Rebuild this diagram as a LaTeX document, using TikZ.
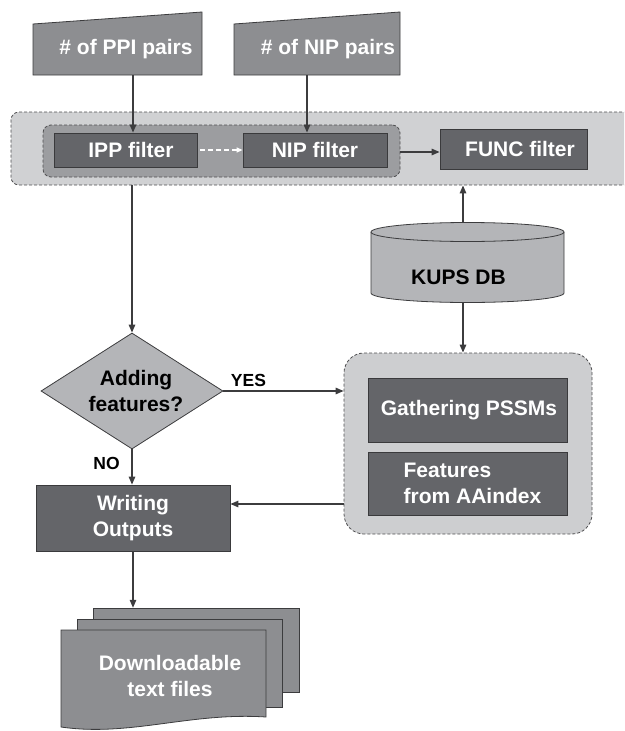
\documentclass[tikz,border=0pt]{standalone}
\usepackage{fontspec}
\setmainfont{Liberation Sans}
\usetikzlibrary{arrows.meta,shapes.geometric}
\definecolor{darkfill}{HTML}{646569}
\definecolor{darkline}{HTML}{3A3A3C}
\definecolor{infill}{HTML}{8D8E91}
\definecolor{lightfill}{HTML}{B4B5B8}
\definecolor{outerfill}{HTML}{D0D1D3}
\definecolor{innerfill}{HTML}{9C9DA0}
\definecolor{rightfill}{HTML}{CDCED0}
\definecolor{lineC}{HTML}{3C3C3E}
\definecolor{dashline}{HTML}{505052}
\begin{document}
\begin{tikzpicture}[x=1pt,y=-1pt,
  txt/.style={font=\bfseries\fontsize{21}{26.5}\selectfont},
  lbl/.style={font=\bfseries\fontsize{17.5}{20}\selectfont, inner sep=0pt},
  darkbox/.style={txt, rectangle, draw=darkline, line width=0.8pt, fill=darkfill, text=white, inner sep=0pt},
  ghost/.style={rectangle, inner sep=0pt},
  wtext/.style={txt, text=white, inner sep=0pt, align=center},
  btext/.style={txt, text=black, inner sep=0pt, align=center},
  container/.style={rectangle, rounded corners=#1, draw=dashline, dash pattern=on 3pt off 2pt, line width=0.8pt},
  shapeline/.style={draw=lineC, line width=0.8pt},
  arr/.style={draw=lineC, line width=1.3pt, -{Triangle[length=8pt,width=6.5pt]}}
]
\useasboundingbox (0,0) rectangle (624,731);
\clip (0,0) rectangle (624,731);

% coordinates for connector columns/rows
\coordinate (cA) at (133,0);
\coordinate (cB) at (307,0);
\coordinate (cC) at (463,0);
\coordinate (rA) at (0,152);
\coordinate (rB) at (0,504);

% manual inputs
\path[shapeline, fill=infill] (33,75) -- (33,24) -- (202,12) -- (202,75) -- cycle;
\node[ghost, wtext, minimum width=169pt, minimum height=51pt] (ppi) at (117.5,49.5) {\hspace*{17pt}\# of PPI pairs};
\path[shapeline, fill=infill] (234,75) -- (234,24) -- (400,12) -- (400,75) -- cycle;
\node[ghost, wtext, minimum width=166pt, minimum height=51pt] (nip) at (317,49.5) {\hspace*{22pt}\# of NIP pairs};

% filter containers
\node[container=8pt, fill=outerfill, minimum width=629pt, minimum height=73pt] (outer) at (325.5,148.5) {};
\node[container=8pt, fill=innerfill, minimum width=357pt, minimum height=52pt] (inner) at (221.5,151) {};

\node[darkbox, minimum width=143pt, minimum height=34pt] (ipp) at (125.5,150) {\hspace*{11pt}IPP filter};
\node[darkbox, minimum width=144pt, minimum height=34pt] (nipf) at (315,150) {NIP filter};
\node[darkbox, minimum width=147pt, minimum height=40pt] (func) at (513.5,149) {\hspace*{13pt}FUNC filter};

% KUPS DB cylinder
\path[shapeline, fill=lightfill] (371,232) -- (371,293)
  arc[start angle=180, end angle=360, x radius=96.5pt, y radius=9.5pt]
  -- (564,232)
  arc[start angle=0, end angle=180, x radius=96.5pt, y radius=9.5pt] -- cycle;
\draw[shapeline] (371,232) arc[start angle=180, end angle=360, x radius=96.5pt, y radius=9.5pt];
\node[ghost, minimum width=193pt, minimum height=79pt] (kups) at (467.5,262.5) {};
\node[btext] (kupst) at (458.5,277) {KUPS DB};

% decision
\node[diamond, shapeline, fill=lightfill, minimum width=182pt, minimum height=116pt, inner sep=0pt] (dec) at (132,391) {};
\node[btext, text depth=0pt] (dect) at (136,391) {Adding\\features?};

% feature group
\node[container=20pt, fill=rightfill, minimum width=248pt, minimum height=181pt] (grp) at (468,443.5) {};
\node[darkbox, minimum width=199pt, minimum height=64pt] (gath) at (467.5,410) {\hspace*{3pt}Gathering PSSMs};
\node[darkbox, minimum width=199pt, minimum height=63pt, align=left] (feat) at (467.5,483.5) {\hspace*{10pt}Features\\\hspace*{10pt}from AAindex};

% writing outputs
\node[darkbox, minimum width=194pt, minimum height=66pt, align=center] (wout) at (133,518) {Writing\\Outputs};

% documents
\path[shapeline, fill=infill] (93,608) rectangle (299,692);
\node[ghost, minimum width=206pt, minimum height=84pt] (docback) at (196,650) {};
\path[shapeline, fill=infill] (77,619) rectangle (282,707);
\path[shapeline, fill=infill] (61,727) -- (61,630) -- (266,630) -- (266,717)
  .. controls (190,712) and (130,737) .. cycle;
\node[wtext, text depth=0pt] (docs) at (170,676) {Downloadable\\text files};

% connectors
\draw[arr] (ppi.south -| cA) -- (ipp.north -| cA);
\draw[arr] (nip.south -| cB) -- (nipf.north -| cB);
\draw[white, line width=1.2pt, dash pattern=on 5pt off 3pt, -{Triangle[length=6pt,width=5pt]}] ([xshift=3pt]ipp.east) -- (nipf.west);
\draw[arr] (inner.east |- rA) -- (func.west |- rA);
\draw[arr] (kups.north -| cC) -- (outer.south -| cC);
\draw[arr] (outer.south -| dec.north) -- (dec.north);
\draw[arr] (kups.south -| cC) -- (grp.north -| cC);
\draw[arr] (dec.east) -- (grp.west |- dec.east);
\draw[arr] (dec.south) -- (wout.north -| dec.south);
\draw[arr] (grp.west |- rB) -- (wout.east |- rB);
\draw[arr] (wout.south -| cA) -- (docback.north -| cA);

% labels
\node[lbl] (yes) at (248.5,380) {YES};
\node[lbl] (no) at (106.5,463) {NO};
\end{tikzpicture}
\end{document}
